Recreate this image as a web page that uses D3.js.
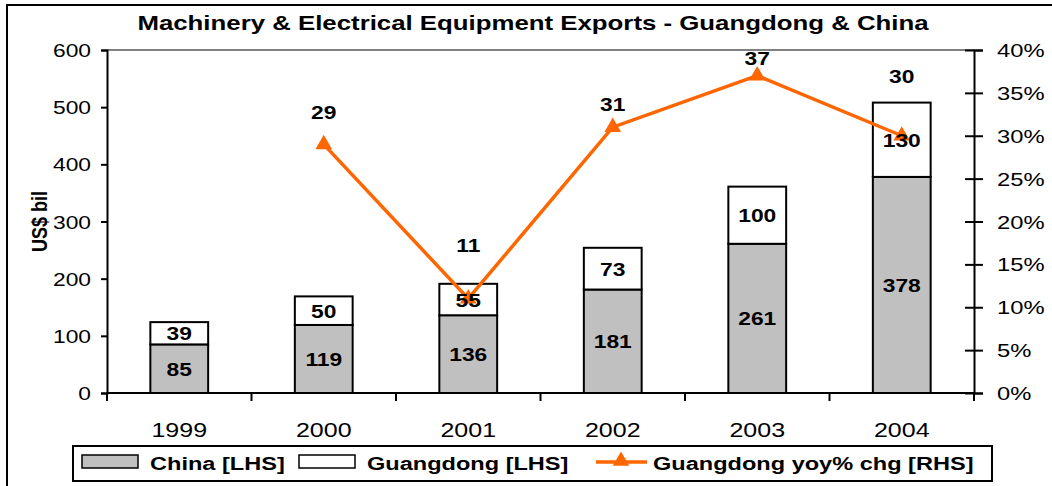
<!DOCTYPE html>
<html>
<head>
<meta charset="utf-8">
<script src="https://cdn.jsdelivr.net/npm/d3@7"></script>
<style>
  body { margin: 0; background: #fff; }
  text { font-family: "Liberation Sans", Arial, sans-serif; }
</style>
</head>
<body>
<svg id="chart"></svg>
<script>
var years = ["1999", "2000", "2001", "2002", "2003", "2004"];
var china = [85, 119, 136, 181, 261, 378];
var guangdong = [39, 50, 55, 73, 100, 130];
var yoy = [null, 29, 11, 31, 37, 30];
var leftTicks = [0, 100, 200, 300, 400, 500, 600];
var rightTicks = [0, 5, 10, 15, 20, 25, 30, 35, 40];

// label offsets above the line points (hand placed in the original)
var yoyLabelDy = [0, -25, -47, -16, -11, -53];

var W = 1052, H = 486;
var pLeft = 107, pRight = 974, pTop = 50, pBottom = 393;
var SX = 1.22; // the original is drawn a bit wide

var svg = d3.select("#chart").attr("width", W).attr("height", H);

// text stretched horizontally round its anchor
function stext(parent, x, y, str, size, anchor, bold, sx) {
  return parent.append("text")
    .attr("transform", "translate(" + x + "," + y + ") scale(" + (sx || SX) + ",1)")
    .attr("text-anchor", anchor || "middle")
    .attr("font-size", size)
    .attr("font-weight", bold ? "bold" : "normal")
    .attr("fill", "#000")
    .text(str);
}

svg.append("rect")
  .attr("x", 7).attr("y", 5).attr("width", W + 10).attr("height", H + 10)
  .attr("fill", "none").attr("stroke", "#000").attr("stroke-width", 2);

stext(svg, 533, 30, "Machinery & Electrical Equipment Exports - Guangdong & China", 20, "middle", true, 1.29);

var x = d3.scaleBand().domain(years).range([pLeft, pRight]).paddingInner(0.6).paddingOuter(0.3);
var y = d3.scaleLinear().domain([0, 600]).range([pBottom, pTop]);
var y2 = d3.scaleLinear().domain([0, 40]).range([pBottom, pTop]);
function cx(yr) { return x(yr) + x.bandwidth() / 2; }

// top border of plot area
svg.append("line")
  .attr("x1", pLeft).attr("x2", pRight).attr("y1", pTop).attr("y2", pTop)
  .attr("stroke", "#808080").attr("stroke-width", 2);

// bars
var g = svg.append("g");
g.selectAll("rect.china").data(china).enter().append("rect")
  .attr("x", function(d, i){ return x(years[i]); })
  .attr("y", function(d){ return y(d); })
  .attr("width", x.bandwidth())
  .attr("height", function(d){ return pBottom - y(d); })
  .attr("fill", "#C0C0C0").attr("stroke", "#000").attr("stroke-width", 2);

g.selectAll("rect.gd").data(guangdong).enter().append("rect")
  .attr("x", function(d, i){ return x(years[i]); })
  .attr("y", function(d, i){ return y(china[i] + d); })
  .attr("width", x.bandwidth())
  .attr("height", function(d, i){ return y(china[i]) - y(china[i] + d); })
  .attr("fill", "#fff").attr("stroke", "#000").attr("stroke-width", 2);

// x axis
var xAxis = svg.append("g").attr("transform", "translate(0," + pBottom + ")");
xAxis.append("line").attr("x1", pLeft).attr("x2", pRight).attr("stroke", "#000").attr("stroke-width", 2);
var step = (pRight - pLeft) / years.length;
d3.range(years.length + 1).forEach(function(k){
  xAxis.append("line").attr("x1", pLeft + k * step).attr("x2", pLeft + k * step)
    .attr("y1", 0).attr("y2", 8).attr("stroke", "#000").attr("stroke-width", 2);
});
years.forEach(function(yr){ stext(xAxis, cx(yr), 44, yr, 20, "middle", false, 1.25); });

// left axis
var yAxis = d3.axisLeft(y).tickValues(leftTicks).tickSize(6).tickFormat("");
var ga = svg.append("g").attr("transform", "translate(" + pLeft + ",0)").call(yAxis);
ga.select(".domain").attr("stroke-width", 2);
ga.selectAll(".tick line").attr("stroke-width", 2);
leftTicks.forEach(function(t){ stext(ga, -16, y(t) + 7, t, 19, "end", false, 1.2); });

// right axis
var yAxis2 = d3.axisRight(y2).tickValues(rightTicks).tickSize(9).tickFormat("");
var gb = svg.append("g").attr("transform", "translate(" + pRight + ",0)").call(yAxis2);
gb.select(".domain").attr("stroke-width", 2);
gb.selectAll(".tick line").attr("x1", -9).attr("stroke-width", 2);
rightTicks.forEach(function(t){ stext(gb, 23, y2(t) + 7, t + "%", 19, "start", false, 1.25); });

svg.append("text")
  .attr("transform", "translate(47," + ((pTop + pBottom) / 2) + ") rotate(-90) scale(1,1.2)")
  .attr("text-anchor", "middle").attr("font-size", 18).attr("font-weight", "bold")
  .text("US$ bil");

// line
var pts = yoy.map(function(d, i){ return {year: years[i], v: d, dy: yoyLabelDy[i]}; })
  .filter(function(d){ return d.v !== null; });
var line = d3.line()
  .x(function(d){ return cx(d.year); })
  .y(function(d){ return y2(d.v); });
svg.append("path").datum(pts).attr("d", line)
  .attr("fill", "none").attr("stroke", "#FF6600").attr("stroke-width", 3.5);

var tri = d3.symbol().type(d3.symbolTriangle).size(120);
svg.selectAll("path.m").data(pts).enter().append("path")
  .attr("d", tri)
  .attr("transform", function(d){ return "translate(" + cx(d.year) + "," + y2(d.v) + ")"; })
  .attr("fill", "#FF6600");

// bar labels, drawn over the line
var lab = svg.append("g");
china.forEach(function(d, i){
  stext(lab, cx(years[i]), (y(d) + pBottom) / 2 + 7, d, 19, "middle", true, 1.2);
});
guangdong.forEach(function(d, i){
  stext(lab, cx(years[i]), (y(china[i]) + y(china[i] + d)) / 2 + 7, d, 19, "middle", true, 1.2);
});
pts.forEach(function(d){ stext(lab, cx(d.year), y2(d.v) + d.dy, d.v, 19, "middle", true, 1.2); });

// legend
var lg = svg.append("g");
lg.append("rect").attr("x", 73).attr("y", 446).attr("width", 919).attr("height", 35)
  .attr("fill", "#fff").attr("stroke", "#000").attr("stroke-width", 2);
lg.append("rect").attr("x", 82).attr("y", 455).attr("width", 56).attr("height", 13)
  .attr("fill", "#C0C0C0").attr("stroke", "#000").attr("stroke-width", 1.5);
stext(lg, 150, 470, "China [LHS]", 19, "start", true, 1.24);
lg.append("rect").attr("x", 299).attr("y", 455).attr("width", 56).attr("height", 13)
  .attr("fill", "#fff").attr("stroke", "#000").attr("stroke-width", 1.5);
stext(lg, 367, 470, "Guangdong [LHS]", 19, "start", true, 1.24);
lg.append("line").attr("x1", 596).attr("x2", 647).attr("y1", 462).attr("y2", 462)
  .attr("stroke", "#FF6600").attr("stroke-width", 3.5);
lg.append("path").attr("d", tri).attr("transform", "translate(621,461)").attr("fill", "#FF6600");
stext(lg, 653, 470, "Guangdong yoy% chg [RHS]", 19, "start", true, 1.24);
</script>
</body>
</html>
